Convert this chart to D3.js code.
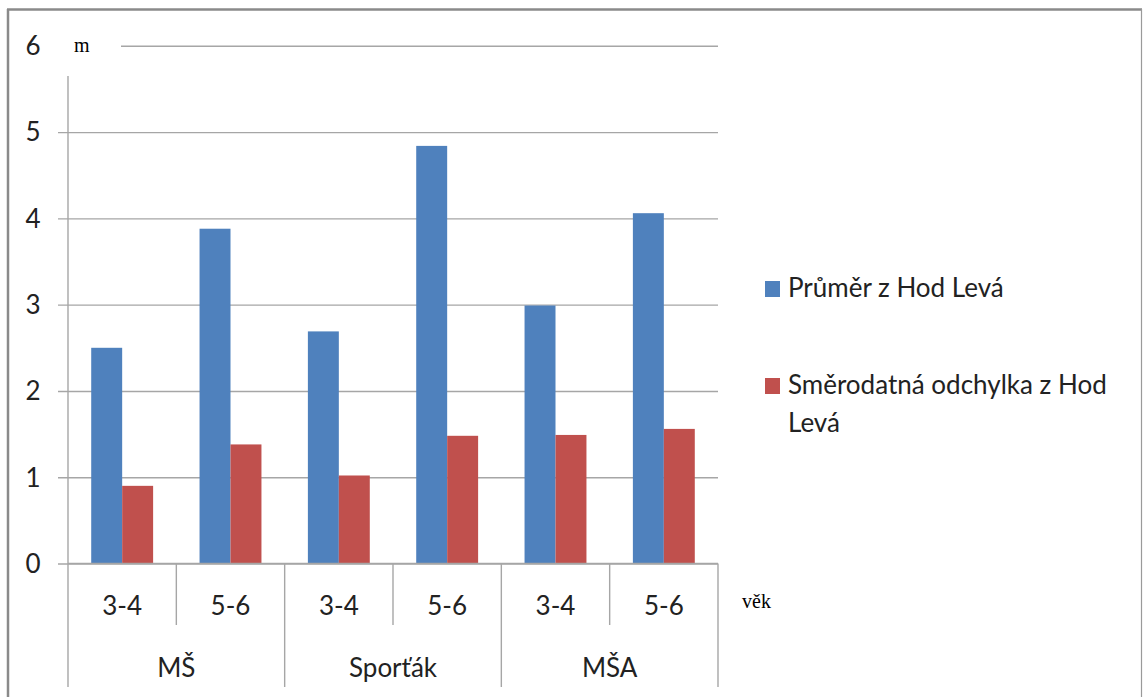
<!DOCTYPE html>
<html>
<head>
<meta charset="utf-8">
<script src="https://cdn.jsdelivr.net/npm/d3@7"></script>
<style>
  html, body { margin: 0; padding: 0; background: #fff; }
  svg { display: block; }
</style>
</head>
<body>
<svg id="chart" width="1144" height="697"></svg>
<script>
// Groups (schools) and age bands on the category axis
const groups = ["MŠ", "Sporťák", "MŠA"];
const ages = ["3-4", "5-6"];
// Series values, one per (group, age) in order
const meanValues = [2.50, 3.88, 2.69, 4.84, 2.99, 4.06];
const sdValues = [0.90, 1.38, 1.02, 1.48, 1.49, 1.56];
const seriesNames = ["Průměr z Hod Levá", "Směrodatná odchylka z Hod Levá"];
const seriesColors = ["#4F81BD", "#C0504D"];
const yTicks = [0, 1, 2, 3, 4, 5, 6];

const categories = [];
groups.forEach(g => ages.forEach(a => categories.push({ group: g, age: a, key: g + "|" + a })));
const series = [meanValues, sdValues];

const svg = d3.select("#chart");
const font = "Lato, 'Open Sans', sans-serif";
const gridColor = "#a6a6a6";
const labelSize = 26;

const plot = { left: 68, right: 718, top: 45.8, bottom: 563.5 };

const x = d3.scaleBand()
  .domain(categories.map(c => c.key))
  .range([plot.left, plot.right])
  .paddingInner(0).paddingOuter(0);

const xSub = d3.scaleBand()
  .domain(d3.range(series.length))
  .range([0, x.bandwidth()])
  .paddingInner(0).paddingOuter(0.75);

const y = d3.scaleLinear().domain([0, 6]).range([plot.bottom, plot.top]);

// Outer frame
svg.append("line").attr("x1", 8).attr("y1", 9).attr("x2", 8).attr("y2", 697)
  .attr("stroke", "#8a8a8a").attr("stroke-width", 2.5);
svg.append("line").attr("x1", 7).attr("y1", 9.5).attr("x2", 1142).attr("y2", 9.5)
  .attr("stroke", "#8a8a8a").attr("stroke-width", 2.5);
svg.append("line").attr("x1", 1141.5).attr("y1", 9).attr("x2", 1141.5).attr("y2", 697)
  .attr("stroke", "#9a9a9a").attr("stroke-width", 1.2);

// Horizontal gridlines with tick marks on the value axis
const yAxis = d3.axisLeft(y).tickValues(yTicks).tickSize(-(plot.right - plot.left)).tickPadding(0).tickFormat("");
const yg = svg.append("g").attr("transform", `translate(${plot.left},0)`).call(yAxis);
yg.select(".domain").remove();
yg.selectAll(".tick line").attr("stroke", gridColor).attr("stroke-width", 1.4).attr("x1", -10);

// Value labels
svg.append("g").selectAll("text").data(yTicks).join("text")
  .attr("x", 33).attr("y", d => y(d))
  .attr("dy", "0.36em")
  .attr("text-anchor", "middle")
  .attr("font-family", font).attr("font-size", labelSize).attr("fill", "#222")
  .text(d => d);

// Bars
series.forEach((vals, si) => {
  svg.append("g").selectAll("rect").data(categories).join("rect")
    .attr("x", (c) => x(c.key) + xSub(si))
    .attr("width", xSub.bandwidth())
    .attr("y", (c, i) => y(vals[i]))
    .attr("height", (c, i) => y(0) - y(vals[i]))
    .attr("fill", seriesColors[si]);
});

// Value axis line
svg.append("line")
  .attr("x1", plot.left).attr("x2", plot.left)
  .attr("y1", 76).attr("y2", 687)
  .attr("stroke", gridColor).attr("stroke-width", 1.4);

// Category axis: baseline, separators, age labels, group labels
svg.append("line")
  .attr("x1", plot.left).attr("x2", plot.right)
  .attr("y1", y(0)).attr("y2", y(0))
  .attr("stroke", gridColor).attr("stroke-width", 1.4);

const sepG = svg.append("g");
categories.forEach((c, i) => {
  const xr = x(c.key) + x.bandwidth();
  const groupEnd = (i % ages.length) === ages.length - 1;
  sepG.append("line")
    .attr("x1", xr).attr("x2", xr)
    .attr("y1", y(0)).attr("y2", groupEnd ? 687 : 625)
    .attr("stroke", gridColor).attr("stroke-width", 1.4);
});

svg.append("g").selectAll("text").data(categories).join("text")
  .attr("x", c => x(c.key) + x.bandwidth() / 2)
  .attr("y", 615)
  .attr("text-anchor", "middle")
  .attr("font-family", font).attr("font-size", labelSize).attr("fill", "#222")
  .text(c => c.age);

svg.append("g").selectAll("text").data(groups).join("text")
  .attr("x", g => {
    const keys = categories.filter(c => c.group === g).map(c => c.key);
    return (x(keys[0]) + x(keys[keys.length - 1]) + x.bandwidth()) / 2;
  })
  .attr("y", 677)
  .attr("text-anchor", "middle")
  .attr("font-family", font).attr("font-size", labelSize).attr("fill", "#222")
  .text(g => g);

// Unit label box on the value axis
svg.append("rect").attr("x", 54).attr("y", 22).attr("width", 67).attr("height", 54).attr("fill", "#fff");
svg.append("text").attr("x", 74).attr("y", 52)
  .attr("font-family", "'Liberation Serif', 'Times New Roman', serif")
  .attr("font-size", 20).attr("fill", "#000").text("m");

// Category axis title
svg.append("text").attr("x", 742).attr("y", 608)
  .attr("font-family", "'Liberation Serif', 'Times New Roman', serif")
  .attr("font-size", 20).attr("fill", "#000").text("věk");

// Legend
const legendItems = [
  { lines: [seriesNames[0]], y: 289 },
  { lines: ["Směrodatná odchylka z Hod", "Levá"], y: 386 }
];
const lg = svg.append("g");
legendItems.forEach((item, i) => {
  lg.append("rect").attr("x", 765).attr("y", item.y - 8).attr("width", 15).attr("height", 16)
    .attr("fill", seriesColors[i]);
  item.lines.forEach((ln, j) => {
    lg.append("text").attr("x", 788).attr("y", item.y + 8 + j * 38)
      .attr("font-family", font).attr("font-size", 26).attr("fill", "#222")
      .text(ln);
  });
});
</script>
</body>
</html>
